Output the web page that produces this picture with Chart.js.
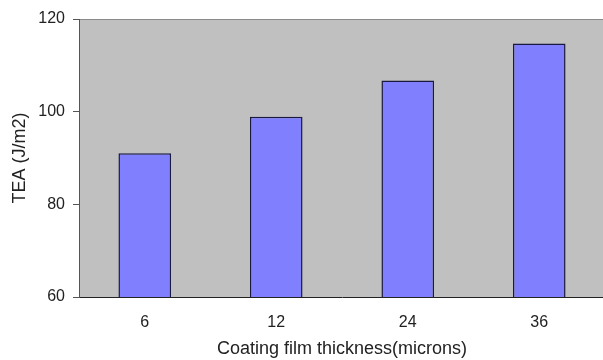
<!DOCTYPE html>
<html>
<head>
<meta charset="utf-8">
<script src="https://cdn.jsdelivr.net/npm/chart.js@4"></script>
<style>
  html, body { margin: 0; padding: 0; background: #ffffff; overflow: hidden; }
  #wrap { width: 605px; height: 360px; }
</style>
</head>
<body>
<div id="wrap"><canvas id="c" width="605" height="360"></canvas></div>
<script>
// Coating film thickness (microns) vs. tensile energy absorption
const thickness = ['6', '12', '24', '36'];
const teaValues = [91.0, 98.9, 106.7, 114.7];
const yTicks = [60, 80, 100, 120];

// Grey plot background with a thin top border
const plotBackground = {
  id: 'plotBackground',
  beforeDraw(chart) {
    const { ctx, chartArea: a } = chart;
    ctx.save();
    ctx.fillStyle = '#c0c0c0';
    ctx.fillRect(a.left, a.top, a.right - a.left, a.bottom - a.top);
    ctx.strokeStyle = '#8a8a8a';
    ctx.lineWidth = 1;
    ctx.beginPath();
    ctx.moveTo(a.left, a.top + 0.5);
    ctx.lineTo(a.right, a.top + 0.5);
    ctx.stroke();
    ctx.restore();
  }
};

const tickFont = { family: 'Liberation Sans, Arial, sans-serif', size: 16 };
const titleFont = { family: 'Liberation Sans, Arial, sans-serif', size: 18 };

new Chart(document.getElementById('c'), {
  type: 'bar',
  data: {
    labels: thickness,
    datasets: [{
      data: teaValues,
      backgroundColor: '#8080ff',
      borderColor: '#1a1a40',
      borderWidth: 1.5,
      borderSkipped: false,
      categoryPercentage: 1,
      barPercentage: 0.4
    }]
  },
  options: {
    responsive: false,
    animation: false,
    layout: { padding: { top: 19, left: 0, right: 0, bottom: 0 } },
    plugins: { legend: { display: false }, tooltip: { enabled: false } },
    scales: {
      x: {
        grid: { display: false, drawTicks: false },
        border: { color: '#222222', width: 1 },
        ticks: { color: '#222222', font: tickFont, padding: 16 },
        title: {
          display: true,
          text: 'Coating film thickness(microns)',
          color: '#222222',
          font: titleFont,
          padding: { top: 4, bottom: 0 }
        },
        afterFit(s) { s.height = 63; }
      },
      y: {
        min: 60,
        max: 120,
        afterBuildTicks(s) { s.ticks = yTicks.map(v => ({ value: v })); },
        grid: { drawOnChartArea: false, drawTicks: true, tickLength: 6, color: '#555555' },
        border: { color: '#555555', width: 1 },
        ticks: { color: '#222222', font: tickFont, padding: 8 },
        title: {
          display: true,
          text: 'TEA (J/m2)',
          color: '#222222',
          font: titleFont,
          padding: { top: 9, bottom: 0 }
        },
        afterFit(s) { s.width = 79; }
      }
    }
  },
  plugins: [plotBackground]
});
</script>
</body>
</html>
